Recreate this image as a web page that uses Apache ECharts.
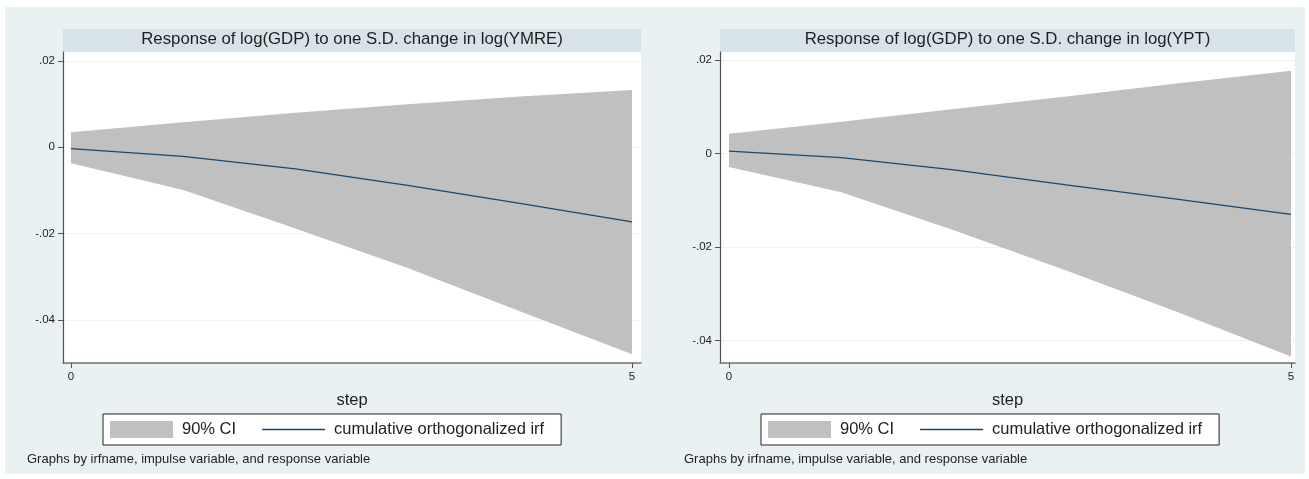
<!DOCTYPE html>
<html>
<head>
<meta charset="utf-8">
<script src="https://cdn.jsdelivr.net/npm/echarts@6/dist/echarts.min.js"></script>
<style>
html,body{margin:0;padding:0;background:#fff;}
#chart{width:1309px;height:479px;}
</style>
</head>
<body>
<div id="chart"></div>
<script>
// ---- data ----
var steps = [0, 1, 2, 3, 4, 5];
var ymreIrf = [-0.0003, -0.0021, -0.0050, -0.0088, -0.0130, -0.0173];
var ymreLo  = [-0.0037, -0.0099, -0.0188, -0.0280, -0.0380, -0.0480];
var ymreHi  = [ 0.0035,  0.0058,  0.0080,  0.0100,  0.0118,  0.0133];
var yptIrf  = [ 0.0005, -0.0009, -0.0035, -0.0067, -0.0098, -0.0130];
var yptLo   = [-0.0029, -0.0083, -0.0164, -0.0250, -0.0340, -0.0434];
var yptHi   = [ 0.0042,  0.0068,  0.0095,  0.0122,  0.0150,  0.0177];
var yTicks = [0.02, 0, -0.02, -0.04];
var xTicks = [0, 5];
var titles = ['Response of log(GDP) to one S.D. change in log(YMRE)',
              'Response of log(GDP) to one S.D. change in log(YPT)'];
var ciName = '90% CI';
var irfName = 'cumulative orthogonalized irf';
var note = 'Graphs by irfname, impulse variable, and response variable';

var FONT = '"Liberation Sans", Arial, Helvetica, sans-serif';
var TXT = '#1e1e1e';
var BAND = '#c0c0c0';
var NAVY = '#1a476f';

function pairs(a){ return steps.map(function(s,i){ return [s, a[i]]; }); }
function fmt(v){ if (Math.abs(v) < 1e-12) return '0'; return String(+v.toFixed(4)).replace('0.', '.'); }

var panels = [
  {irf: ymreIrf, lo: ymreLo, hi: ymreHi, left: 63, right: 641, xmin: -0.0713, xmax: 5.080, ymin: -0.0500, ymax: 0.0221},
  {irf: yptIrf,  lo: yptLo,  hi: yptHi,  left: 720, right: 1295, xmin: -0.080, xmax: 5.036, ymin: -0.0448, ymax: 0.0217}
];
var legendOffsets = [103, 761];
var noteOffsets = [27, 684];

var grids = [], xAxes = [], yAxes = [], series = [], titleArr = [], legends = [], graphics = [];

graphics.push({type:'rect', shape:{x:5, y:7, width:1300, height:467}, style:{fill:'#eaf1f3'}, z:-10, silent:true});

panels.forEach(function(p, k){
  grids.push({left: p.left, width: p.right - p.left, top: 52, bottom: 479 - 363, show: true, backgroundColor: '#ffffff', borderWidth: 0});
  graphics.push({type:'rect', shape:{x:p.left, y:29, width:p.right - p.left, height:23}, style:{fill:'#d7e3e9'}, z:-5, silent:true});
  titleArr.push({text: titles[k], left: (p.left + p.right)/2, top: 31, textAlign: 'center', padding: 0,
    textStyle:{fontFamily: FONT, fontSize: 16.8, fontWeight: 'normal', color: TXT}});
  titleArr.push({text: note, left: noteOffsets[k], top: 453, padding: 0,
    textStyle:{fontFamily: FONT, fontSize: 13, fontWeight: 'normal', color: TXT}});
  xAxes.push({
    type: 'value', gridIndex: k, min: p.xmin, max: p.xmax,
    name: 'step', nameLocation: 'middle', nameGap: 29,
    nameTextStyle: {fontFamily: FONT, fontSize: 16.5, color: TXT},
    axisLine: {show: true, onZero: false, lineStyle: {color: '#707070', width: 1.6}},
    axisTick: {show: true, customValues: xTicks, length: 5, lineStyle: {color: '#555', width: 1}},
    axisLabel: {show: true, customValues: xTicks, margin: 8, fontFamily: FONT, fontSize: 11.5, color: TXT},
    splitLine: {show: false}
  });
  yAxes.push({
    type: 'value', gridIndex: k, min: p.ymin, max: p.ymax,
    axisLine: {show: true, onZero: false, lineStyle: {color: '#505050', width: 1.2}},
    axisTick: {show: true, customValues: yTicks, length: 5, lineStyle: {color: '#555', width: 1}},
    axisLabel: {show: true, customValues: yTicks, margin: 8, fontFamily: FONT, fontSize: 11.5, color: TXT, formatter: fmt},
    splitLine: {show: false}
  });
  // faint horizontal grid lines, under everything
  series.push({
    type: 'line', name: 'grid' + k, xAxisIndex: k, yAxisIndex: k, data: pairs(p.irf),
    symbol: 'none', lineStyle: {opacity: 0}, silent: true, z: 0,
    markLine: {silent: true, z: 0, symbol: 'none', label: {show: false}, animation: false,
      lineStyle: {color: '#edf2f4', width: 1, type: 'solid'},
      data: yTicks.map(function(v){ return {yAxis: v}; })}
  });
  // CI band: upper part filled down to (slightly below) zero, lower part filled up to (slightly above) zero
  series.push({
    type: 'line', name: ciName, xAxisIndex: k, yAxisIndex: k, data: pairs(p.hi),
    symbol: 'none', color: BAND, lineStyle: {width: 0},
    areaStyle: {color: BAND, opacity: 1, origin: -0.0004}, silent: true, z: 2
  });
  series.push({
    type: 'line', name: 'ci-lower' + k, xAxisIndex: k, yAxisIndex: k, data: pairs(p.lo),
    symbol: 'none', color: BAND, lineStyle: {width: 0},
    areaStyle: {color: BAND, opacity: 1, origin: 0.0004}, silent: true, z: 2
  });
  series.push({
    type: 'line', name: irfName, xAxisIndex: k, yAxisIndex: k, data: pairs(p.irf),
    symbol: 'none', color: NAVY, lineStyle: {color: NAVY, width: 1.3}, silent: true, z: 3
  });
  legends.push({
    left: legendOffsets[k], top: 414, orient: 'horizontal', selectedMode: false,
    data: [{name: ciName, icon: 'rect'}, {name: irfName, icon: 'path://M0,0H63V1.3H0Z'}],
    itemWidth: 63, itemHeight: 17, itemGap: 26,
    padding: [7, 17, 7, 7],
    backgroundColor: '#ffffff', borderColor: '#222', borderWidth: 1, borderRadius: 0,
    textStyle: {fontFamily: FONT, fontSize: 16.5, color: TXT, padding: [0, 0, 0, 4]}
  });
});

var chart = echarts.init(document.getElementById('chart'), null, {renderer: 'canvas'});
chart.setOption({
  animation: false,
  backgroundColor: '#ffffff',
  title: titleArr,
  grid: grids,
  xAxis: xAxes,
  yAxis: yAxes,
  legend: legends,
  graphic: graphics,
  series: series
});
</script>
</body>
</html>
